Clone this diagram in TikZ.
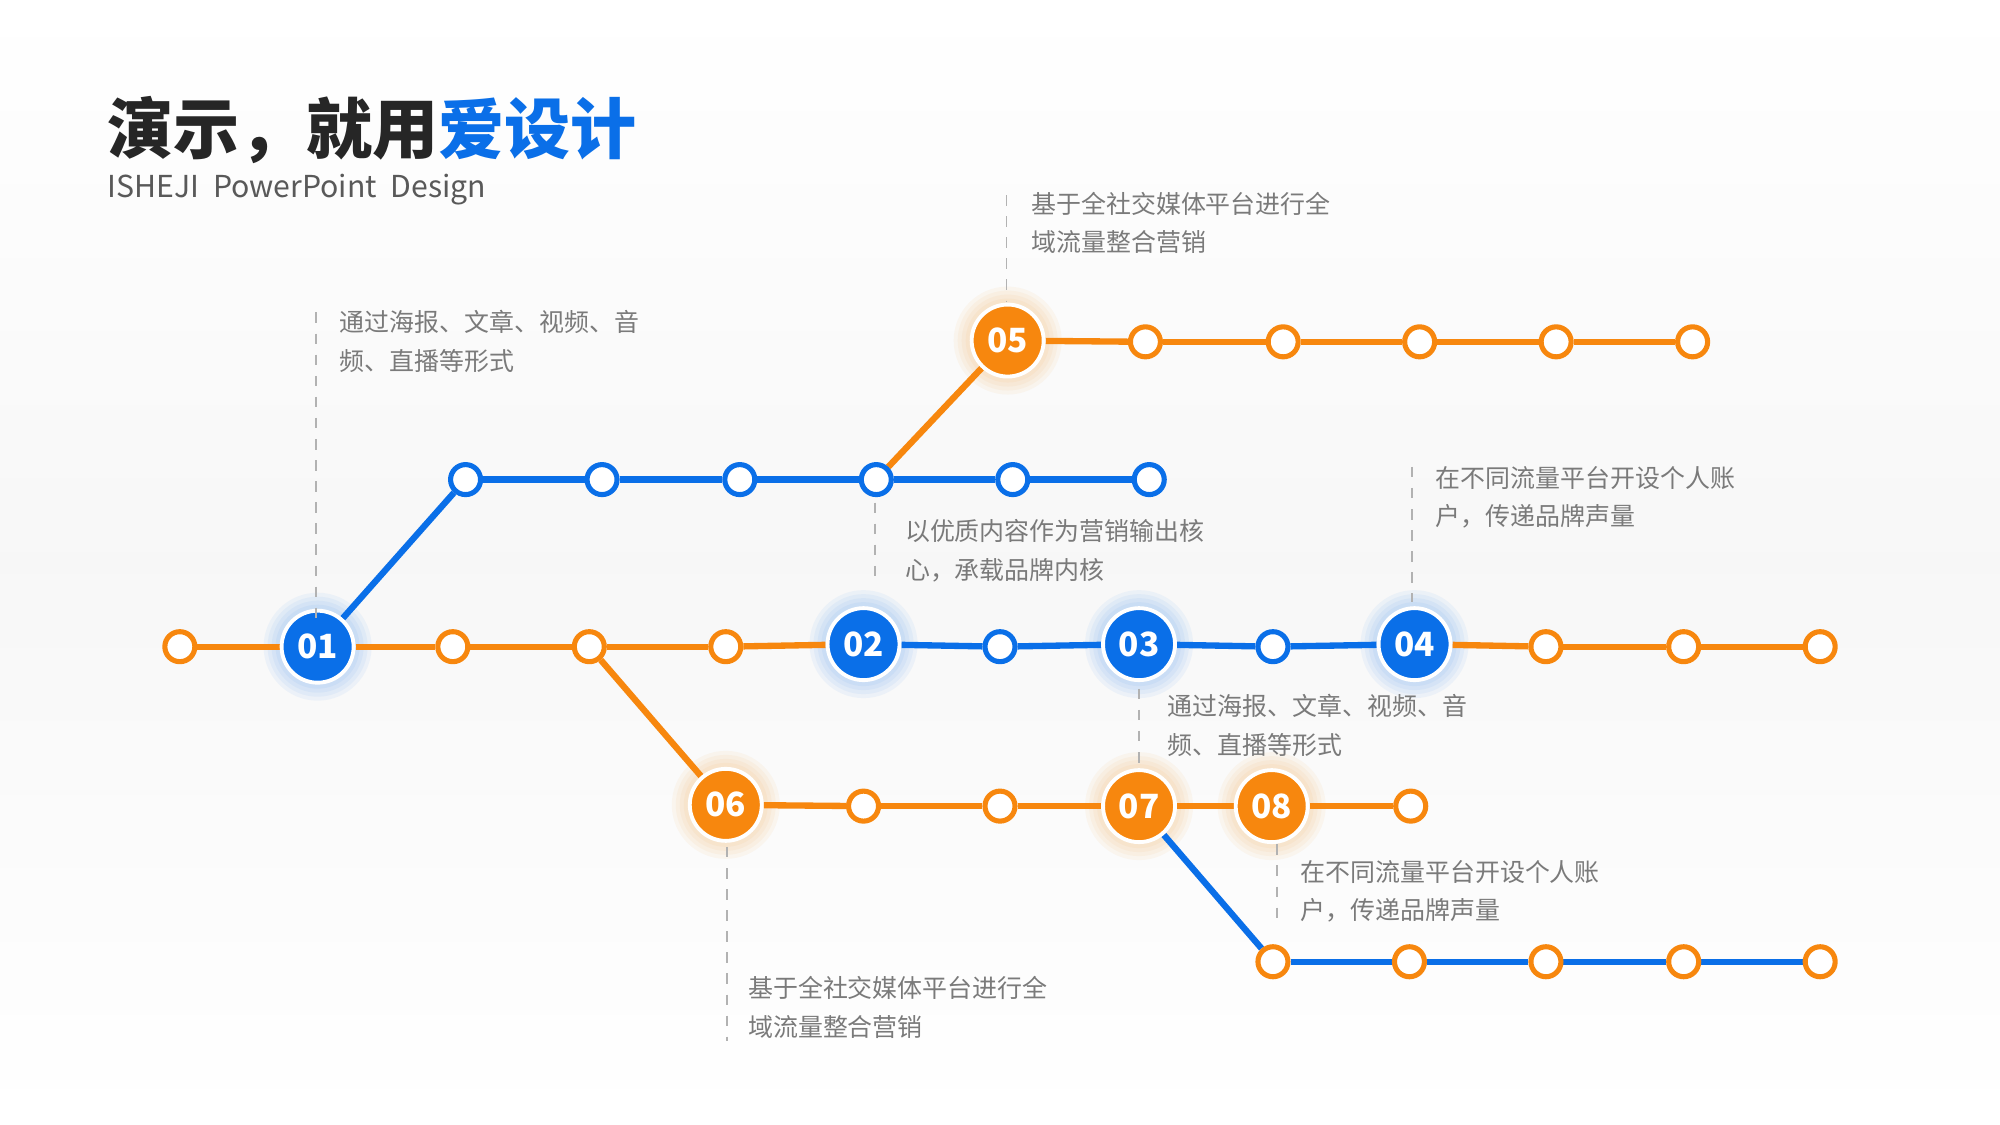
\documentclass[tikz,border=0pt]{standalone}
\usepackage{fontspec}
\setmainfont{Noto Sans CJK SC}
\newfontfamily\cjk{Noto Sans CJK SC}
\usetikzlibrary{positioning,backgrounds}
\definecolor{mblue}{HTML}{0A6FE8}
\definecolor{morange}{HTML}{F7870E}
\definecolor{tgray}{HTML}{7A7A7A}
\tikzset{
  bigb/.style={circle,fill=mblue,draw=white,line width=1.1pt,minimum size=0.72cm,inner sep=0pt,
    text=white,font=\cjk\bfseries\fontsize{9.5}{10}\selectfont},
  bigo/.style={bigb,fill=morange},
  dotb/.style={circle,fill=white,draw=mblue,line width=1.45pt,minimum size=0.3cm,inner sep=0pt},
  doto/.style={dotb,draw=morange},
  lb/.style={draw=mblue,line width=1.8pt},
  lo/.style={draw=morange,line width=1.8pt},
  note/.style={anchor=north west,align=left,text=tgray,inner sep=0pt,
    font=\cjk\fontsize{7.1}{10.9}\selectfont},
  guide/.style={draw=gray!60,dashed,line width=0.5pt}
}
\begin{document}
\begin{tikzpicture}[x=0.012755cm,y=-0.012755cm]
\begin{scope}[on background layer]
  \shade[top color=white,bottom color=white,middle color=gray!6] (0,0) rectangle (1568,882);
\end{scope}
\useasboundingbox (0,0) rectangle (1568,882);

% title
\node[anchor=west,inner sep=0pt,font=\cjk\bfseries\fontsize{18.8}{20}\selectfont] (title) at (84,102)
  {\textcolor{black!85}{演示，就用}\textcolor{mblue}{爱设计}};
\node[anchor=west,inner sep=0pt,text=black!65,font=\fontsize{8.6}{10}\selectfont] (sub) at (84,149)
  {ISHEJI\ \ PowerPoint\ \ Design};

% main line
\node[doto] (m0) at (141,507) {};
\node[bigb] (m1) at (249,507) {01};
\node[doto] (m2) at (355,507) {};
\node[doto] (m3) at (462,507) {};
\node[doto] (m4) at (569,507) {};
\node[bigb] (m5) at (677,505) {02};
\node[dotb] (m6) at (784,507) {};
\node[bigb] (m7) at (893,505) {03};
\node[dotb] (m8) at (998,507) {};
\node[bigb] (m9) at (1109,505) {04};
\node[doto] (m10) at (1212,507) {};
\node[doto] (m11) at (1320,507) {};
\node[doto] (m12) at (1427,507) {};

% upper blue line
\foreach \i/\x in {1/365,2/472,3/580,4/687,5/794,6/901}
  \node[dotb] (u\i) at (\x,376) {};
% top orange line
\node[bigo] (t0) at (790,267) {05};
\foreach \i/\x in {1/898,2/1006,3/1113,4/1220,5/1327}
  \node[doto] (t\i) at (\x,268) {};
% lower orange line
\node[bigo] (l0) at (569,631) {06};
\node[doto] (l1) at (677,632) {};
\node[doto] (l2) at (784,632) {};
\node[bigo] (l3) at (893,632) {07};
\node[bigo] (l4) at (997,632) {08};
\node[doto] (l5) at (1106,632) {};
% bottom blue line
\foreach \i/\x in {1/998,2/1105,3/1212,4/1320,5/1427}
  \node[doto] (b\i) at (\x,754) {};

\begin{scope}[on background layer]
  \foreach \n/\c in {m1/mblue,m5/mblue,m7/mblue,m9/mblue,t0/morange,l0/morange,l3/morange,l4/morange}
    \foreach \r in {0.54,0.5,0.46,0.42}
      \fill[\c,opacity=0.05] (\n) circle (\r cm);
  \foreach \a/\b in {m0/m1,m1/m2,m2/m3,m3/m4,m4/m5,m9/m10,m10/m11,m11/m12,
      m3/l0,l0/l1,l1/l2,l2/l3,l3/l4,l4/l5,u4/t0,t0/t1,t1/t2,t2/t3,t3/t4,t4/t5}
    \draw[lo] (\a) -- (\b);
  \foreach \a/\b in {m5/m6,m6/m7,m7/m8,m8/m9,m1/u1,u1/u2,u2/u3,u3/u4,u4/u5,u5/u6,
      l3/b1,b1/b2,b2/b3,b3/b4,b4/b5}
    \draw[lb] (\a) -- (\b);
\end{scope}

% notes
\coordinate (g1a) at (248,245); \coordinate (g1b) at (248,488);
\draw[guide] (g1a) -- (g1b);
\node[note] (n1) at (266,243) {通过海报、文章、视频、音\\频、直播等形式};
\coordinate (g2a) at (789,153); \coordinate (g2b) at (789,236);
\draw[guide] (g2a) -- (g2b);
\node[note] (n2) at (808,150) {基于全社交媒体平台进行全\\域流量整合营销};
\coordinate (g3a) at (686,394); \coordinate (g3b) at (686,460);
\draw[guide] (g3a) -- (g3b);
\node[note] (n3) at (709,407) {以优质内容作为营销输出核\\心，承载品牌内核};
\coordinate (g4a) at (1107,366); \coordinate (g4b) at (1107,472);
\draw[guide] (g4a) -- (g4b);
\node[note] (n4) at (1125,365) {在不同流量平台开设个人账\\户，传递品牌声量};
\coordinate (g5a) at (893,540); \coordinate (g5b) at (893,600);
\draw[guide] (g5a) -- (g5b);
\node[note] (n5) at (915,544) {通过海报、文章、视频、音\\频、直播等形式};
\coordinate (g6a) at (1001,662); \coordinate (g6b) at (1001,722);
\draw[guide] (g6a) -- (g6b);
\node[note] (n6) at (1019,674) {在不同流量平台开设个人账\\户，传递品牌声量};
\coordinate (g7a) at (570,664); \coordinate (g7b) at (570,816);
\draw[guide] (g7a) -- (g7b);
\node[note] (n7) at (586,765) {基于全社交媒体平台进行全\\域流量整合营销};
\end{tikzpicture}
\end{document}
